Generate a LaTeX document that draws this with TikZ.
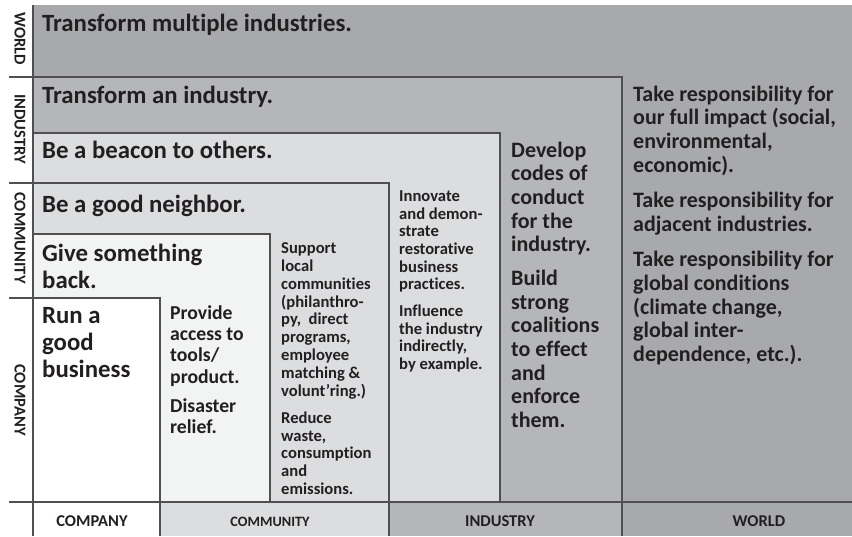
\documentclass[tikz,border=0pt]{standalone}
\usepackage{fontspec}
\setmainfont{Carlito}[Ligatures=NoCommon]
\usepackage{xcolor}
\usepackage{tikz}

\definecolor{worldgray}{HTML}{A8A9AC}
\definecolor{industrygray}{HTML}{B5B6B9}
\definecolor{communitygray}{HTML}{DCDDDF}
\definecolor{givegray}{HTML}{F2F3F3}
\definecolor{rulegray}{HTML}{505052}
\definecolor{ink}{HTML}{231F20}

\begin{document}
\begin{tikzpicture}[
				x=1pt, y=-1pt,
				level/.style={draw=rulegray, line width=1.2pt},
				rule/.style={draw=rulegray, line width=1.2pt},
				head/.style={
					anchor=base west, inner sep=0pt, text=ink,
					font=\fontsize{24.8}{27}\selectfont\bfseries,
					align=left
				},
				col/.style={
					anchor=north west, inner sep=0pt, text=ink,
					align=left, execute at begin node={\strut}
				},
				axislbl/.style={
					inner sep=0pt, text=ink, rotate=-90,
					font=\fontsize{16.5}{18}\selectfont\bfseries
				},
				footlbl/.style={
					anchor=base, inner sep=0pt, text=ink,
					font=\fontsize{16.5}{18}\selectfont\bfseries
				}
				]
				\useasboundingbox (0,0) rectangle (852,536);
				
				% nested levels, largest first
				\fill[worldgray] (33,5) rectangle (852,502);
				\filldraw[level, fill=industrygray] (33,77) rectangle (622,502);
				\filldraw[level, fill=communitygray] (33,133) rectangle (500,502);
				\filldraw[level, fill=communitygray] (33,183) rectangle (389,502);
				\filldraw[level, fill=givegray] (33,234) rectangle (270,502);
				\filldraw[level, fill=white] (33,298) rectangle (160,502);
				
				% bottom scale
				\fill[white] (33,502) rectangle (160,536);
				\fill[communitygray] (160,502) rectangle (389,536);
				\fill[industrygray] (389,502) rectangle (622,536);
				\fill[worldgray] (622,502) rectangle (852,536);
				\draw[rule] (33,5) -- (33,536);
				\draw[rule] (9,502) -- (852,502);
				\draw[rule] (160,502) -- (160,536);
				\draw[rule] (389,502) -- (389,536);
				\draw[rule] (622,502) -- (622,536);
				\draw[rule] (9,77) -- (33,77);
				\draw[rule] (9,183) -- (33,183);
				\draw[rule] (9,298) -- (33,298);
				
				\node[footlbl] (fcompany) at (92,526) {COMPANY};
				\node[footlbl, font=\fontsize{14.3}{16}\selectfont\bfseries] (fcommunity) at (270,526) {COMMUNITY};
				\node[footlbl] (findustry) at (500,526) {INDUSTRY};
				\node[footlbl] (fworld) at (759,526) {WORLD};
				
				\node[axislbl] (aworld) at (20,39) {WORLD};
				\node[axislbl] (aindustry) at (20,129) {INDUSTRY};
				\node[axislbl] (acommunity) at (20,238) {COMMUNITY};
				\node[axislbl] (acompany) at (20,400) {COMPANY};
				
				% level headings
				\node[head] (hworld) at (42,31) {Transform multiple industries.};
				\node[head] (hindustry) at (42,103) {Transform an industry.};
				\node[head] (hbeacon) at (42,158) {Be a beacon to others.};
				\node[head] (hneighbor) at (42,212) {Be a good neighbor.};
				\node[head, col] (hgive) at (42,244) {Give something\\back.};
				\node[head, col] (hrun) at (42,307) {Run a\\good\\business};
				
				% column texts
				\node[col, font=\fontsize{19.7}{21.2}\selectfont\bfseries] (provide) at (170,305.5)
					{Provide\\access to\\tools/\\product.\\[8.3pt]Disaster\\relief.};
				\node[col, font=\fontsize{16.6}{17.8}\selectfont\bfseries] (support) at (281,242.7)
					{Support\\local\\communities\\(philanthro-\\py,~ direct\\programs,\\employee\\matching \&\\volunt’ring.)\\[9.4pt]Reduce\\waste,\\consumption\\and\\emissions.};
				\node[col, font=\fontsize{16.6}{17.6}\selectfont\bfseries] (innovate) at (399,190.7)
					{Innovate\\and demon-\\strate\\restorative\\business\\practices.\\[9.4pt]Influence\\the industry\\indirectly,\\by example.};
				\node[col, font=\fontsize{22}{23.7}\selectfont\bfseries] (develop) at (511,141.5)
					{Develop\\codes of\\conduct\\for the\\industry.\\[9.7pt]Build\\strong\\coalitions\\to effect\\and\\enforce\\them.};
				\node[col, font=\fontsize{22}{23.7}\selectfont\bfseries] (impact) at (633,85.5)
					{Take responsibility for\\our full impact (social,\\environmental,\\economic).\\[11.7pt]Take responsibility for\\adjacent industries.\\[11.7pt]Take responsibility for\\global conditions\\(climate change,\\global inter-\\dependence, etc.).};
\end{tikzpicture}
\end{document}
